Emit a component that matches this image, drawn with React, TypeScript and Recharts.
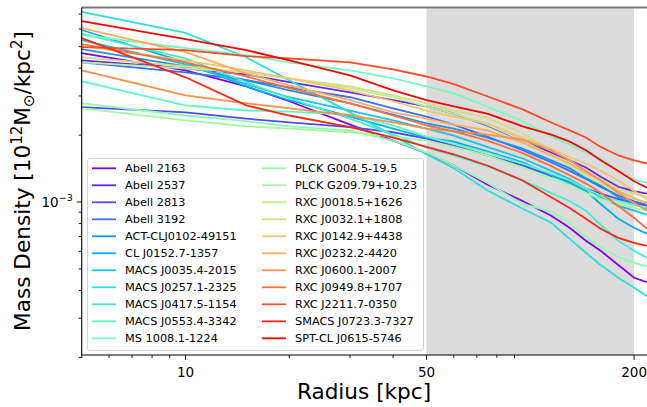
import React from "react";
import { LineChart, Line, XAxis, YAxis, ReferenceArea, ReferenceLine, Legend } from "recharts";

const radii = [5, 10, 15, 20, 30, 40, 50, 60, 75, 95, 115, 130, 145, 160, 180, 200, 218];

const clusters = [
  "Abell 2163", "Abell 2537", "Abell 2813", "Abell 3192", "ACT-CLJ0102-49151",
  "CL J0152.7-1357", "MACS J0035.4-2015", "MACS J0257.1-2325", "MACS J0417.5-1154",
  "MACS J0553.4-3342", "MS 1008.1-1224", "PLCK G004.5-19.5", "PLCK G209.79+10.23",
  "RXC J0018.5+1626", "RXC J0032.1+1808", "RXC J0142.9+4438", "RXC J0232.2-4420",
  "RXC J0600.1-2007", "RXC J0949.8+1707", "RXC J2211.7-0350", "SMACS J0723.3-7327",
  "SPT-CL J0615-5746",
];

// rainbow colormap, one colour per cluster
const colors = [
  "#8000ff", "#6726fe", "#4f4bfc", "#376ff9", "#1e90f4", "#06aded", "#12c7e6", "#2bdddd",
  "#43edd3", "#5bf9c7", "#73febb", "#8cfead", "#a4f99f", "#bced90", "#d5dd80", "#edc76f",
  "#ffad5d", "#ff904b", "#ff6f39", "#ff4b26", "#ff2613", "#ff0000",
];

// surface mass density [10^12 Msun / kpc^2] at each radius
const abell2163 = [4.67e-3, 3.91e-3, 3.31e-3, 2.84e-3, 2.23e-3, 1.89e-3, 1.66e-3, 1.46e-3, 1.2e-3, 1.01e-3, 8.67e-4, 7.66e-4, 6.69e-4, 6.03e-4, 5.21e-4, 4.56e-4, 4.36e-4];
const abell2537 = [4.34e-3, 3.99e-3, 3.75e-3, 3.46e-3, 3.11e-3, 2.87e-3, 2.69e-3, 2.5e-3, 2.21e-3, 1.89e-3, 1.67e-3, 1.54e-3, 1.43e-3, 1.3e-3, 1.17e-3, 1.12e-3, 1.09e-3];
const abell2813 = [2.67e-3, 2.53e-3, 2.37e-3, 2.28e-3, 2.17e-3, 2.06e-3, 1.93e-3, 1.79e-3, 1.62e-3, 1.46e-3, 1.31e-3, 1.24e-3, 1.15e-3, 1.09e-3, 1.03e-3, 9.9e-4, 9.6e-4];
const abell3192 = [4.25e-3, 3.83e-3, 3.53e-3, 3.28e-3, 2.96e-3, 2.64e-3, 2.42e-3, 2.23e-3, 1.97e-3, 1.71e-3, 1.51e-3, 1.38e-3, 1.27e-3, 1.17e-3, 1.07e-3, 1.01e-3, 9.7e-4];
const act0102 = [4.87e-3, 4.08e-3, 3.53e-3, 3.18e-3, 2.78e-3, 2.47e-3, 2.26e-3, 2.14e-3, 1.95e-3, 1.74e-3, 1.54e-3, 1.42e-3, 1.28e-3, 1.19e-3, 1.05e-3, 9.8e-4, 9.3e-4];
const cl0152 = [5.94e-3, 4.25e-3, 3.31e-3, 2.87e-3, 2.42e-3, 2.14e-3, 1.95e-3, 1.87e-3, 1.69e-3, 1.51e-3, 1.32e-3, 1.22e-3, 1.12e-3, 9.8e-4, 8.41e-4, 7.66e-4, 7.19e-4];
const macs0035 = [5.35e-3, 4.16e-3, 3.39e-3, 2.96e-3, 2.58e-3, 2.33e-3, 2.14e-3, 1.99e-3, 1.77e-3, 1.57e-3, 1.38e-3, 1.27e-3, 1.15e-3, 1.05e-3, 9.6e-4, 9.14e-4, 8.77e-4];
const macs0257 = [7.16e-3, 5.76e-3, 4.48e-3, 3.53e-3, 2.53e-3, 1.99e-3, 1.64e-3, 1.42e-3, 1.13e-3, 9.33e-4, 8.07e-4, 6.83e-4, 5.91e-4, 5.21e-4, 4.56e-4, 4.11e-4, 3.77e-4];
const macs0417 = [5.7e-3, 4.43e-3, 3.46e-3, 2.93e-3, 2.37e-3, 2.01e-3, 1.76e-3, 1.62e-3, 1.45e-3, 1.25e-3, 1.1e-3, 1.01e-3, 9.14e-4, 7.9e-4, 6.69e-4, 6.03e-4, 5.6e-4];
const macs0553 = [3.49e-3, 2.72e-3, 2.58e-3, 2.55e-3, 2.47e-3, 2.21e-3, 1.97e-3, 1.83e-3, 1.67e-3, 1.49e-3, 1.34e-3, 1.25e-3, 1.15e-3, 1.07e-3, 1.01e-3, 9.7e-4, 9.4e-4];
const ms1008 = [5.64e-3, 4.92e-3, 4.57e-3, 4.25e-3, 3.91e-3, 3.6e-3, 3.31e-3, 3.08e-3, 2.69e-3, 2.31e-3, 1.97e-3, 1.81e-3, 1.67e-3, 1.57e-3, 1.38e-3, 1.26e-3, 1.22e-3];
const plck004 = [2.78e-3, 2.45e-3, 2.31e-3, 2.19e-3, 2.1e-3, 1.89e-3, 1.67e-3, 1.46e-3, 1.22e-3, 9.8e-4, 9.05e-4, 8.07e-4, 6.97e-4, 6.28e-4, 5.66e-4, 5.32e-4, 5.15e-4];
const plck209 = [2.64e-3, 2.33e-3, 2.19e-3, 2.14e-3, 2.06e-3, 1.97e-3, 1.89e-3, 1.77e-3, 1.62e-3, 1.43e-3, 1.27e-3, 1.19e-3, 1.1e-3, 1.03e-3, 9.8e-4, 9.4e-4, 9.14e-4];
const rxc0018 = [4.25e-3, 3.99e-3, 3.83e-3, 3.6e-3, 3.25e-3, 2.96e-3, 2.69e-3, 2.5e-3, 2.23e-3, 1.89e-3, 1.62e-3, 1.46e-3, 1.31e-3, 1.21e-3, 1.1e-3, 1.03e-3, 9.9e-4];
const rxc0032 = [4.48e-3, 4.08e-3, 3.83e-3, 3.6e-3, 3.31e-3, 3.02e-3, 2.78e-3, 2.58e-3, 2.4e-3, 2.04e-3, 1.71e-3, 1.54e-3, 1.38e-3, 1.27e-3, 1.15e-3, 1.09e-3, 1.05e-3];
const rxc0142 = [5.03e-3, 4.34e-3, 3.91e-3, 3.6e-3, 3.18e-3, 2.84e-3, 2.58e-3, 2.42e-3, 2.26e-3, 1.95e-3, 1.74e-3, 1.59e-3, 1.49e-3, 1.38e-3, 1.25e-3, 1.12e-3, 1.03e-3];
const rxc0232 = [6.06e-3, 4.72e-3, 3.79e-3, 3.35e-3, 2.87e-3, 2.53e-3, 2.37e-3, 2.23e-3, 2.1e-3, 1.85e-3, 1.62e-3, 1.49e-3, 1.35e-3, 1.25e-3, 1.12e-3, 1.04e-3, 9.9e-4];
const rxc0600 = [3.91e-3, 3.02e-3, 2.78e-3, 2.64e-3, 2.45e-3, 2.28e-3, 2.14e-3, 2.08e-3, 2.01e-3, 1.91e-3, 1.71e-3, 1.54e-3, 1.38e-3, 1.25e-3, 1.1e-3, 9.9e-4, 9.14e-4];
const rxc0949 = [5.13e-3, 4.25e-3, 3.67e-3, 3.25e-3, 2.78e-3, 2.45e-3, 2.21e-3, 2.08e-3, 1.89e-3, 1.66e-3, 1.45e-3, 1.32e-3, 1.21e-3, 1.1e-3, 9.6e-4, 8.5e-4, 7.58e-4];
const rxc2211 = [4.97e-3, 4.82e-3, 4.53e-3, 4.43e-3, 4.25e-3, 3.95e-3, 3.67e-3, 3.39e-3, 2.99e-3, 2.61e-3, 2.28e-3, 2.1e-3, 1.95e-3, 1.77e-3, 1.62e-3, 1.54e-3, 1.49e-3];
const smacs0723 = [5.46e-3, 3.64e-3, 2.72e-3, 2.45e-3, 2.17e-3, 1.95e-3, 1.77e-3, 1.64e-3, 1.46e-3, 1.25e-3, 1.05e-3, 9.4e-4, 8.41e-4, 7.58e-4, 6.9e-4, 6.55e-4, 6.35e-4];
const spt0615 = [6.52e-3, 5.41e-3, 4.82e-3, 4.34e-3, 3.71e-3, 3.18e-3, 2.87e-3, 2.69e-3, 2.5e-3, 2.19e-3, 2.01e-3, 1.87e-3, 1.71e-3, 1.54e-3, 1.38e-3, 1.24e-3, 1.16e-3];

const profiles = [
  abell2163, abell2537, abell2813, abell3192, act0102, cl0152, macs0035, macs0257, macs0417,
  macs0553, ms1008, plck004, plck209, rxc0018, rxc0032, rxc0142, rxc0232, rxc0600, rxc0949,
  rxc2211, smacs0723, spt0615,
];

const xMajor = [10, 50, 200];
const xMinor = [5, 6, 7, 8, 9, 20, 30, 40, 60, 70, 80, 90];
const yMajor = [1e-3];
const yMinor = [2e-4, 3e-4, 4e-4, 5e-4, 6e-4, 7e-4, 8e-4, 9e-4, 2e-3, 3e-3, 4e-3, 5e-3, 6e-3, 7e-3];

const font = "'DejaVu Sans', sans-serif";

const table = radii.map((r, k) => {
  const row: Record<string, number> = { r };
  clusters.forEach((name, i) => {
    row[name] = profiles[i][k];
  });
  return row;
});

const XTick = (props: any) => {
  const { x, y, payload } = props;
  const major = xMajor.includes(payload.value);
  return (
    <g>
      <line x1={x} x2={x} y1={y} y2={y + (major ? 5 : 3)} stroke="#000" strokeWidth={0.9} />
      {major && (
        <text x={x} y={y + 22} textAnchor="middle" fontSize={13.5} fontFamily={font} fill="#000">
          {payload.value}
        </text>
      )}
    </g>
  );
};

const YTick = (props: any) => {
  const { x, y, payload } = props;
  const major = yMajor.includes(payload.value);
  return (
    <g>
      <line x1={x - (major ? 5 : 3)} x2={x} y1={y} y2={y} stroke="#000" strokeWidth={0.9} />
      {major && (
        <text x={x - 9} y={y + 5} textAnchor="end" fontSize={13.5} fontFamily={font} fill="#000">
          10<tspan dy={-6} fontSize={9.5}>−3</tspan>
        </text>
      )}
    </g>
  );
};

// legend drawn in the original series order, two columns of 11
const LegendBox = () => (
  <div
    style={{
      width: 337,
      height: 193,
      boxSizing: "border-box",
      border: "1px solid #d4d4d4",
      borderRadius: 3,
      background: "rgba(255,255,255,0.8)",
    }}
  >
    <svg width={335} height={191} style={{ display: "block" }}>
      {clusters.map((name, i) => {
        const col = i < 11 ? 0 : 1;
        const row = i % 11;
        const cy = 9.3 + row * 17;
        const lx = col === 0 ? 4 : 174;
        return (
          <g key={name}>
            <line x1={lx} x2={lx + 24} y1={cy} y2={cy} stroke={colors[i]} strokeWidth={1.8} />
            <text x={lx + 33} y={cy + 4} fontSize={11.3} fontFamily={font} fill="#000">
              {name}
            </text>
          </g>
        );
      })}
    </svg>
  </div>
);

const YLabel = () => (
  <text
    x={30}
    y={181}
    transform="rotate(-90, 30, 181)"
    textAnchor="middle"
    fontSize={21.6}
    fontFamily={font}
    fill="#000"
  >
    Mass Density [10<tspan dy={-8} fontSize={15}>12</tspan>
    <tspan dy={8}>M</tspan>
    <tspan dy={4} fontSize={15}>⊙</tspan>
    <tspan dy={-4}>/kpc</tspan>
    <tspan dy={-8} fontSize={15}>2</tspan>
    <tspan dy={8}>]</tspan>
  </text>
);

const XLabel = () => (
  <text x={364} y={399} textAnchor="middle" fontSize={21.6} fontFamily={font} fill="#000">
    Radius [kpc]
  </text>
);

export default function App() {
  return (
    <div style={{ width: 647, height: 407, fontFamily: font, background: "#fff" }}>
      <style>{"body{margin:0}"}</style>
      <LineChart width={647} height={407} data={table} margin={{ top: 7.5, right: 0, bottom: 0, left: 0 }}>
        <ReferenceArea x1={50} x2={200} fill="#dcdcdc" fillOpacity={1} stroke="none" ifOverflow="hidden" />
        <XAxis
          dataKey="r"
          type="number"
          scale="log"
          domain={[5, 218]}
          allowDataOverflow
          ticks={[...xMinor, ...xMajor].sort((a, b) => a - b)}
          interval={0}
          tick={<XTick />}
          tickSize={0}
          tickMargin={0}
          tickLine={false}
          axisLine={{ stroke: "#000", strokeWidth: 1.1 }}
          height={52}
          label={<XLabel />}
        />
        <YAxis
          type="number"
          scale="log"
          domain={[2.05e-4, 7.5e-3]}
          allowDataOverflow
          ticks={[...yMinor, ...yMajor].sort((a, b) => a - b)}
          interval={0}
          tick={<YTick />}
          tickSize={0}
          tickMargin={0}
          tickLine={false}
          axisLine={{ stroke: "#000", strokeWidth: 1.1 }}
          width={81.7}
          label={<YLabel />}
        />
        <ReferenceLine y={7.5e-3} stroke="#7a7a7a" strokeWidth={2} ifOverflow="extendDomain" />
        {clusters.map((name, i) => (
          <Line
            key={name}
            dataKey={name}
            name={name}
            type="linear"
            stroke={colors[i]}
            strokeWidth={1.8}
            dot={false}
            isAnimationActive={false}
          />
        ))}
        <Legend
          layout="vertical"
          align="center"
          verticalAlign="middle"
          content={<LegendBox />}
          wrapperStyle={{ left: 87, top: 158, width: 337, height: 193 }}
        />
      </LineChart>
    </div>
  );
}
